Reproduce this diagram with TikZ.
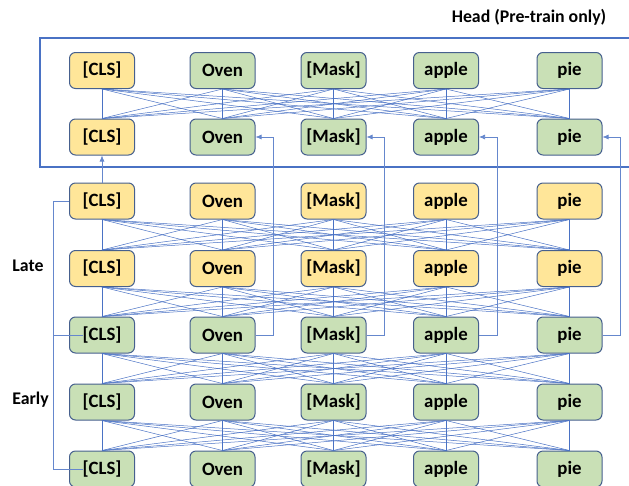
\documentclass[tikz,border=0pt]{standalone}
\usepackage{fontspec}
\setmainfont{Carlito}
\usetikzlibrary{arrows.meta,calc}
\definecolor{tokyellow}{HTML}{FFE699}
\definecolor{tokgreen}{HTML}{C9E0B6}
\definecolor{tokedge}{HTML}{46608E}
\definecolor{wirecol}{HTML}{4A72C4}
\begin{document}
\begin{tikzpicture}[x=1pt,y=-1pt,
  tok/.style={draw=tokedge, line width=1pt, rounded corners=6pt,
    minimum width=65pt, minimum height=36pt, inner sep=0pt,
    font=\fontsize{18.8}{22}\selectfont\bfseries},
  wire/.style={draw=wirecol, line width=0.5pt},
  skip/.style={draw=wirecol!85, line width=0.7pt},
  tip/.style={-{Latex[length=6pt,width=5pt]}},
  lbl/.style={font=\fontsize{17.8}{20}\selectfont\bfseries, inner sep=0pt}]
\useasboundingbox (0,0) rectangle (629,485);

% head frame
\draw[draw=wirecol, line width=1.3pt] (40,38) rectangle (633,167);
\node[lbl] (headlbl) at (529,17) {Head (Pre-train only)};
\node[lbl] (late) at (28,266) {Late};
\node[lbl] (early) at (30.5,400) {Early};

% token boxes: rows 1-2 head, 3-4 late, 5-7 early
\foreach \r/\y/\fa/\fb in {1/70.5/tokyellow/tokgreen, 2/137/tokyellow/tokgreen,
    3/201/tokyellow/tokyellow, 4/268.5/tokyellow/tokyellow,
    5/335/tokgreen/tokgreen, 6/402/tokgreen/tokgreen, 7/469/tokgreen/tokgreen}{
  \foreach \c/\x/\t in {1/102/{[CLS]}, 2/222.5/Oven, 3/333.5/{[Mask]}, 4/446/apple, 5/569.5/pie}{
    \ifnum\c=1 \def\f{\fa}\else\def\f{\fb}\fi
    \node[tok, fill=\f] (r\r c\c) at (\x,\y) {\t};
  }
}

% all-to-all links between consecutive layers
\foreach \a/\b in {1/2,3/4,4/5,5/6,6/7}
  \foreach \i in {1,...,5}
    \foreach \j in {1,...,5}
      \draw[wire] (r\a c\i.south) -- (r\b c\j.north);

% CLS feeds the head
\draw[skip,tip] (r3c1.north) -- (r2c1.south);

% token skips from the early stack into the head
\foreach \c in {2,...,5}
  \draw[skip,tip] (r5c\c.east) -- ++(18,0) |- (r2c\c.east);

% CLS rail on the left
\coordinate (railtop) at (53,201);
\coordinate (railmid) at (53,335);
\coordinate (railbot) at (53,469);
\draw[skip] (r3c1.west) -- (railtop) -- (railbot) -- ($(r7c1.west)+(14,0)$);
\draw[skip] (railmid) -- ($(r5c1.west)+(14,0)$);
\end{tikzpicture}
\end{document}
